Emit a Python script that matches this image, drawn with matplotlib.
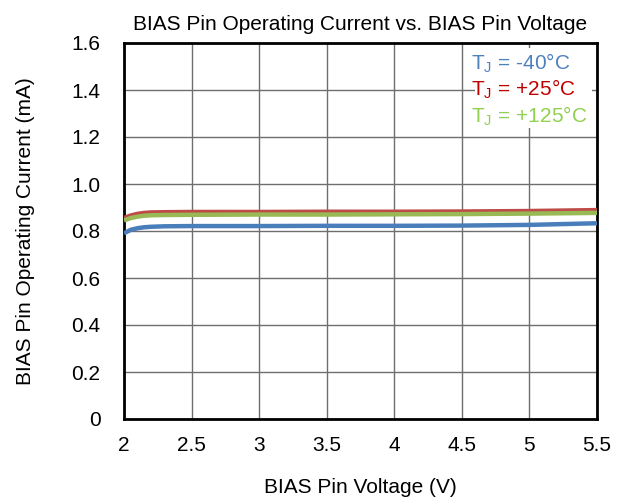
import matplotlib
matplotlib.use("Agg")
import matplotlib.pyplot as plt
from matplotlib.patches import Rectangle

plt.rcParams['font.family'] = ['Liberation Sans', 'DejaVu Sans']

voltage = [2.0, 2.05, 2.1, 2.15, 2.2, 2.3, 2.5, 3.0, 3.5, 4.0, 4.5, 5.0, 5.5]
i_m40 = [0.790, 0.805, 0.812, 0.816, 0.818, 0.820, 0.821, 0.821, 0.822, 0.822, 0.823, 0.826, 0.833]
i_p25 = [0.855, 0.866, 0.873, 0.877, 0.879, 0.880, 0.881, 0.881, 0.882, 0.882, 0.883, 0.885, 0.889]
i_p125 = [0.845, 0.855, 0.861, 0.865, 0.867, 0.868, 0.869, 0.870, 0.870, 0.871, 0.872, 0.874, 0.877]

x_ticks = [2, 2.5, 3, 3.5, 4, 4.5, 5, 5.5]
x_labels = ['2', '2.5', '3', '3.5', '4', '4.5', '5', '5.5']
y_ticks = [0, 0.2, 0.4, 0.6, 0.8, 1.0, 1.2, 1.4, 1.6]
y_labels = ['0', '0.2', '0.4', '0.6', '0.8', '1.0', '1.2', '1.4', '1.6']

FS = 15

fig = plt.figure(figsize=(6.23, 5.01), dpi=100)
ax = fig.add_axes([124/623, 1 - 419/501, (597-124)/623, (419-43)/501])

ax.plot(voltage, i_m40, color='#4a7ebb', lw=3.2, solid_capstyle='butt', zorder=3)
ax.plot(voltage, i_p25, color='#be4b48', lw=3.2, solid_capstyle='butt', zorder=3)
ax.plot(voltage, i_p125, color='#98b954', lw=3.2, solid_capstyle='butt', zorder=3)

ax.set_xlim(2, 5.5)
ax.set_ylim(0, 1.6)
ax.set_xticks(x_ticks)
ax.set_xticklabels(x_labels)
ax.set_yticks(y_ticks)
ax.set_yticklabels(y_labels)
ax.grid(True, color='#6e6e6e', lw=1.0, zorder=1)
ax.tick_params(axis='both', labelsize=FS, length=0, colors='black')
ax.tick_params(axis='y', pad=17)
ax.tick_params(axis='x', pad=12)
for s in ax.spines.values():
    s.set_linewidth(2.0)
    s.set_color('black')

ax.set_xlabel('BIAS Pin Voltage (V)', fontsize=FS, labelpad=17)
ax.set_ylabel('BIAS Pin Operating Current (mA)', fontsize=FS, labelpad=26)
ax.set_title('BIAS Pin Operating Current vs. BIAS Pin Voltage', fontsize=FS, pad=9)

# white box behind the temperature labels
ax.add_patch(Rectangle((4.6, 1.24), 0.86, 0.34, facecolor='white', edgecolor='none', zorder=2))

labels = [('T$_\\mathregular{J}$ = -40°C', '#4f81bd', 1.515),
          ('T$_\\mathregular{J}$ = +25°C', '#c00000', 1.403),
          ('T$_\\mathregular{J}$ = +125°C', '#92d050', 1.29)]
for text, col, yv in labels:
    ax.text(4.57, yv, text, color=col, fontsize=FS, va='center', ha='left', zorder=4)

fig.savefig('out.png', dpi=100)
